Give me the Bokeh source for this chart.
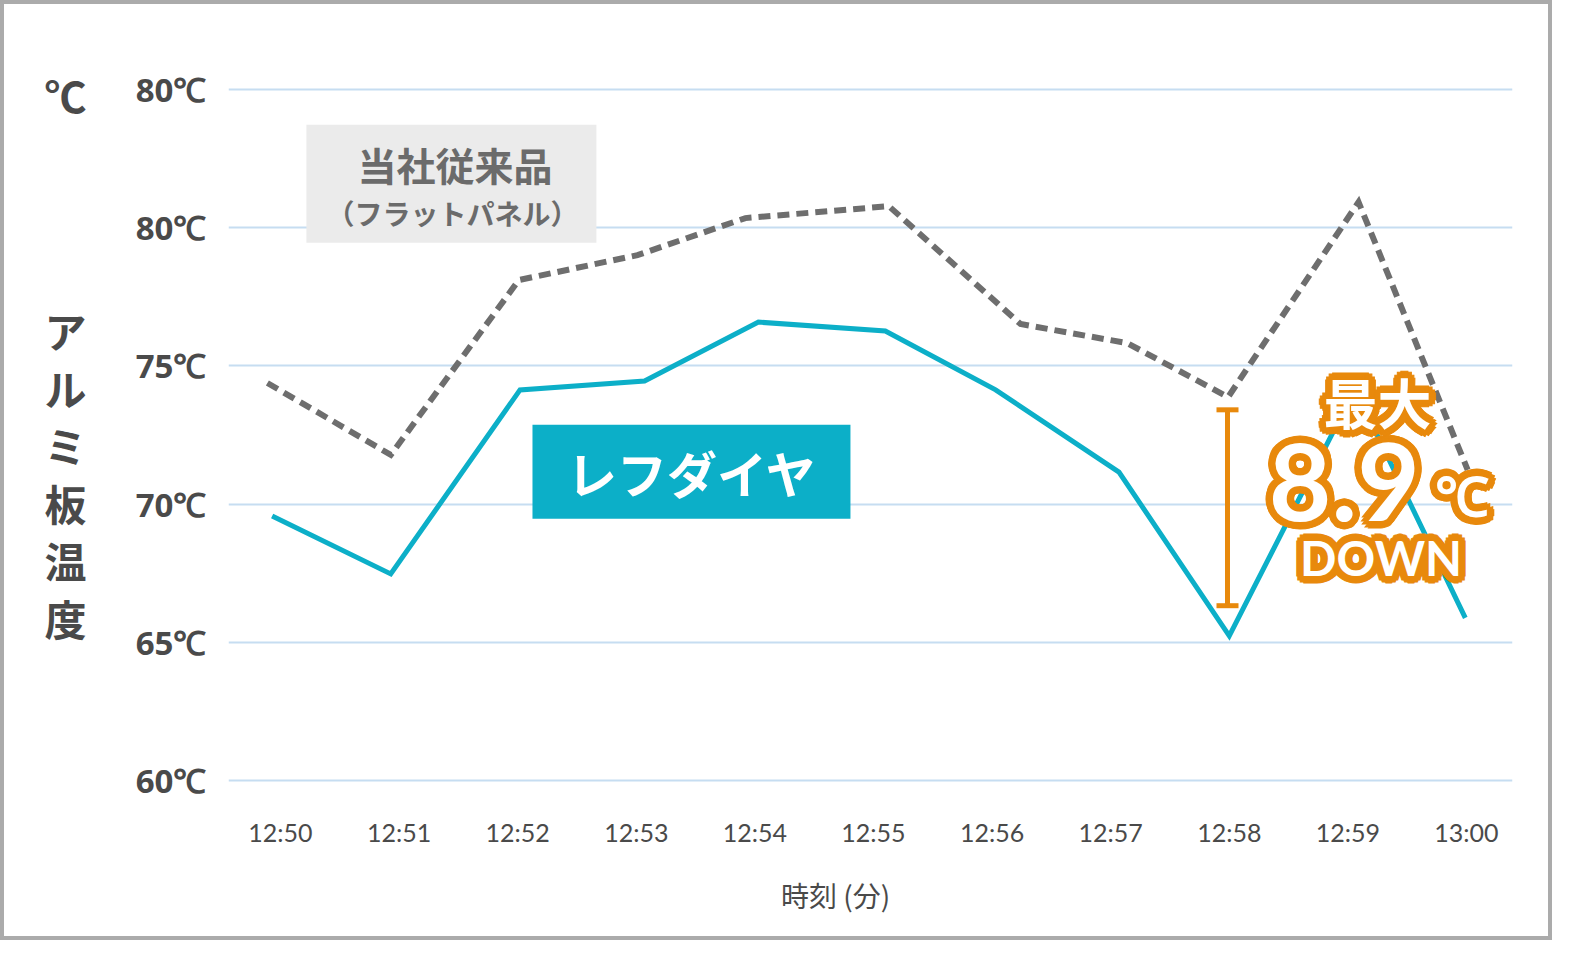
import math

from bokeh.plotting import figure
from bokeh.models import (ColumnDataSource, Range1d, FixedTicker, BoxAnnotation,
                          Label, Whisker, TeeHead, LinearAxis)
from bokeh.embed import file_html
from bokeh.resources import INLINE

# x values are minutes after 12:50
tick_minutes = list(range(11))
tick_labels = ["12:50", "12:51", "12:52", "12:53", "12:54", "12:55",
               "12:56", "12:57", "12:58", "12:59", "13:00"]
temp_ticks = [60, 65, 70, 75, 80, 85]
temp_tick_labels = ["60℃", "65℃", "70℃", "75℃", "80℃", "80℃"]

# レフダイヤ
refdiya_min = [-0.07, 0.93, 2.02, 3.07, 4.03, 5.10, 6.03, 7.07, 8.00, 9.06, 9.99]
refdiya_temp = [69.57, 67.48, 74.13, 74.45, 76.58, 76.26, 74.13, 71.16, 65.24, 74.16, 65.89]

# 当社従来品（フラットパネル）
flat_min = [-0.11, 0.93, 2.01, 3.01, 3.92, 5.13, 6.24, 7.14, 7.99, 9.09, 10.01]
flat_temp = [74.38, 71.78, 78.10, 79.00, 80.34, 80.77, 76.51, 75.82, 73.87, 80.92, 71.24]

# bracket of the "max 8.9℃ down" callout
gap_at = [7.985]
gap_low = [66.33]
gap_high = [73.41]

# y title, written top to bottom
y_title_chars = ["℃", "ア", "ル", "ミ", "板", "温", "度"]
y_title_at = [84.79, 76.30, 74.22, 72.14, 70.07, 67.99, 65.91]
x_title = "時刻 (分)"
x_title_at = 4.68

BLUE = "#0cafc8"
GREY = "#6e6e6e"
ORANGE = "#e8890c"
TEXT = "#4a4a4a"
JP = "Noto Sans CJK JP"

p = figure(width=1552, height=940,
           x_range=Range1d(-0.438, 10.388), y_range=Range1d(59, 86),
           output_backend="svg", toolbar_location=None,
           min_border_left=224, min_border_right=44,
           min_border_top=57, min_border_bottom=136,
           styles={"border": "4px solid #ababab"})
p.outline_line_color = None
p.background_fill_color = "white"

p.xgrid.visible = False
p.ygrid.grid_line_color = "#c6ddf1"
p.ygrid.grid_line_width = 2

p.xaxis.ticker = FixedTicker(ticks=tick_minutes)
p.xaxis.major_label_overrides = dict(zip(tick_minutes, tick_labels))
p.xaxis.major_label_text_font = "Lato"
p.xaxis.major_label_text_font_size = "25px"
p.xaxis.major_label_text_color = TEXT
p.xaxis.major_label_standoff = 8

p.yaxis.ticker = FixedTicker(ticks=temp_ticks)
p.yaxis.major_label_overrides = dict(zip(temp_ticks, temp_tick_labels))
p.yaxis.major_label_text_font = "Open Sans"
p.yaxis.major_label_text_font_style = "bold"
p.yaxis.major_label_text_font_size = "33px"
p.yaxis.major_label_text_color = TEXT
p.yaxis.major_label_standoff = 22

# axis titles as extra, tick-only axes so they sit where the original has them
y_title_axis = LinearAxis(ticker=FixedTicker(ticks=y_title_at),
                          major_label_overrides=dict(zip(y_title_at, y_title_chars)),
                          major_label_text_font=JP, major_label_text_font_style="bold",
                          major_label_text_font_size="42px",
                          major_label_text_color=TEXT, major_label_standoff=46)
p.add_layout(y_title_axis, "left")

x_title_axis = LinearAxis(ticker=FixedTicker(ticks=[x_title_at]),
                          major_label_overrides={x_title_at: x_title},
                          major_label_text_font=JP,
                          major_label_text_font_size="28px",
                          major_label_text_color=TEXT, major_label_standoff=25)
p.add_layout(x_title_axis, "below")

for ax in p.xaxis + p.yaxis:
    ax.axis_line_color = None
    ax.major_tick_line_color = None
    ax.minor_tick_line_color = None
    ax.major_tick_out = 0
    ax.major_tick_in = 0

flat = ColumnDataSource(data=dict(x=flat_min, y=flat_temp))
refd = ColumnDataSource(data=dict(x=refdiya_min, y=refdiya_temp))

p.line("x", "y", source=flat, line_color=GREY, line_width=6,
       line_dash="12 7", line_join="miter")
p.line("x", "y", source=refd, line_color=BLUE, line_width=5, line_join="miter")

# series tags
p.add_layout(BoxAnnotation(left=0.219, right=2.664, top=83.71, bottom=79.45,
                           fill_color="#ebebeb", fill_alpha=1, line_alpha=0))
p.add_layout(BoxAnnotation(left=2.125, right=4.806, top=72.87, bottom=69.47,
                           fill_color=BLUE, fill_alpha=1, line_alpha=0))


def label(x, y, text, size, color, font=JP, bold=True, dx=0, dy=0, outline=None):
    lab = Label(x=x, y=y, x_offset=dx, y_offset=dy, text=text, text_font=font,
                text_font_size=size, text_color=color, text_align="center",
                text_baseline="middle", text_font_style="bold" if bold else "normal")
    if outline:
        lab.text_outline_color = outline
    p.add_layout(lab)


label(1.471, 82.28, "当社従来品", "39px", "#6b6b6b")
label(1.45, 80.53, "（フラットパネル）", "28px", "#6b6b6b")
label(3.47, 71.17, "レフダイヤ", "50px", "white")

# bracket
gap = ColumnDataSource(data=dict(base=gap_at, lower=gap_low, upper=gap_high))
p.add_layout(Whisker(source=gap, base="base", lower="lower", upper="upper",
                     dimension="height", line_color=ORANGE, line_width=5,
                     upper_head=TeeHead(size=22, line_color=ORANGE, line_width=5),
                     lower_head=TeeHead(size=22, line_color=ORANGE, line_width=5)))

# callout: white text with a thick orange halo
callout = [
    (9.25, 73.70, "最大", "54px", JP),
    (8.97, 70.81, "8.9", "108px", "Lato"),
    (9.96, 70.30, "℃", "54px", "Lato"),
    (9.28, 68.06, "DOWN", "48px", "Lato"),
]
for x, y, t, s, f in callout:
    for k in range(12):
        a = 2 * math.pi * k / 12
        label(x, y, t, s, ORANGE, font=f,
              dx=7 * math.cos(a), dy=7 * math.sin(a), outline=ORANGE)
for x, y, t, s, f in callout:
    label(x, y, t, s, "white", font=f)

open("out.html", "w").write(file_html(p, INLINE))
